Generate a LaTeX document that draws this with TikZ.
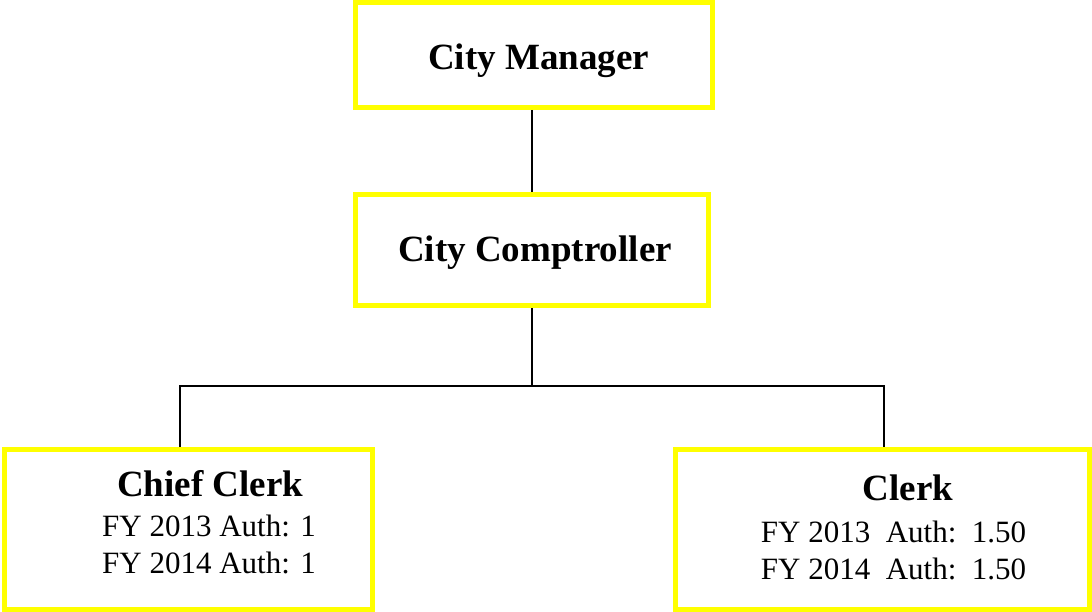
\documentclass[tikz,border=0pt]{standalone}
\usepackage{fontspec}
\setmainfont{Liberation Serif}
\usetikzlibrary{calc}
\definecolor{boxyellow}{RGB}{255,255,0}
\begin{document}
\begin{tikzpicture}[x=1pt,y=-1pt,
  posbox/.style={draw=boxyellow, line width=5pt, fill=white, inner sep=0pt, rectangle},
  title/.style={anchor=base, inner sep=0pt, font=\fontsize{37}{44}\selectfont\bfseries},
  detail/.style={anchor=base, inner sep=0pt, font=\fontsize{31}{37}\selectfont},
  link/.style={line width=2pt, black}]
\useasboundingbox (0,0) rectangle (1092,612);

% position boxes
\node[posbox, minimum width=357pt, minimum height=105pt] (cm) at (534,55) {};
\node[posbox, minimum width=353pt, minimum height=111pt] (cc) at (532,250) {};
\node[posbox, minimum width=368pt, minimum height=160pt] (ck) at (188.5,529.5) {};
\node[posbox, minimum width=414pt, minimum height=160pt] (cl) at (882.5,529.5) {};

% reporting lines
\coordinate (bus)  at (531.5,385.5);
\coordinate (busL) at (180,385.5);
\coordinate (busR) at (883.5,385.5);
\draw[link] (cm.south -| bus) -- (cc.north -| bus);
\draw[link] (cc.south -| bus) -- (bus);
\draw[link] (ck.north -| busL) -- (busL) -- (busR) -- (cl.north -| busR);

% labels
\node[title] (cmt) at (538.5,70) {City Manager};
\node[title] (cct) at (535,262) {City Comptroller};

\node[title]  (ckt) at (210,496) {Chief Clerk};
\node[detail] (ck1) at (209,536) {FY 2013 Auth: 1};
\node[detail] (ck2) at (209,573) {FY 2014 Auth: 1};

\node[title]  (clt) at (908,500) {Clerk};
\node[detail] (cl1) at (893.5,542) {FY 2013\ \ Auth:\ \ 1.50};
\node[detail] (cl2) at (893.5,579) {FY 2014\ \ Auth:\ \ 1.50};
\end{tikzpicture}
\end{document}
